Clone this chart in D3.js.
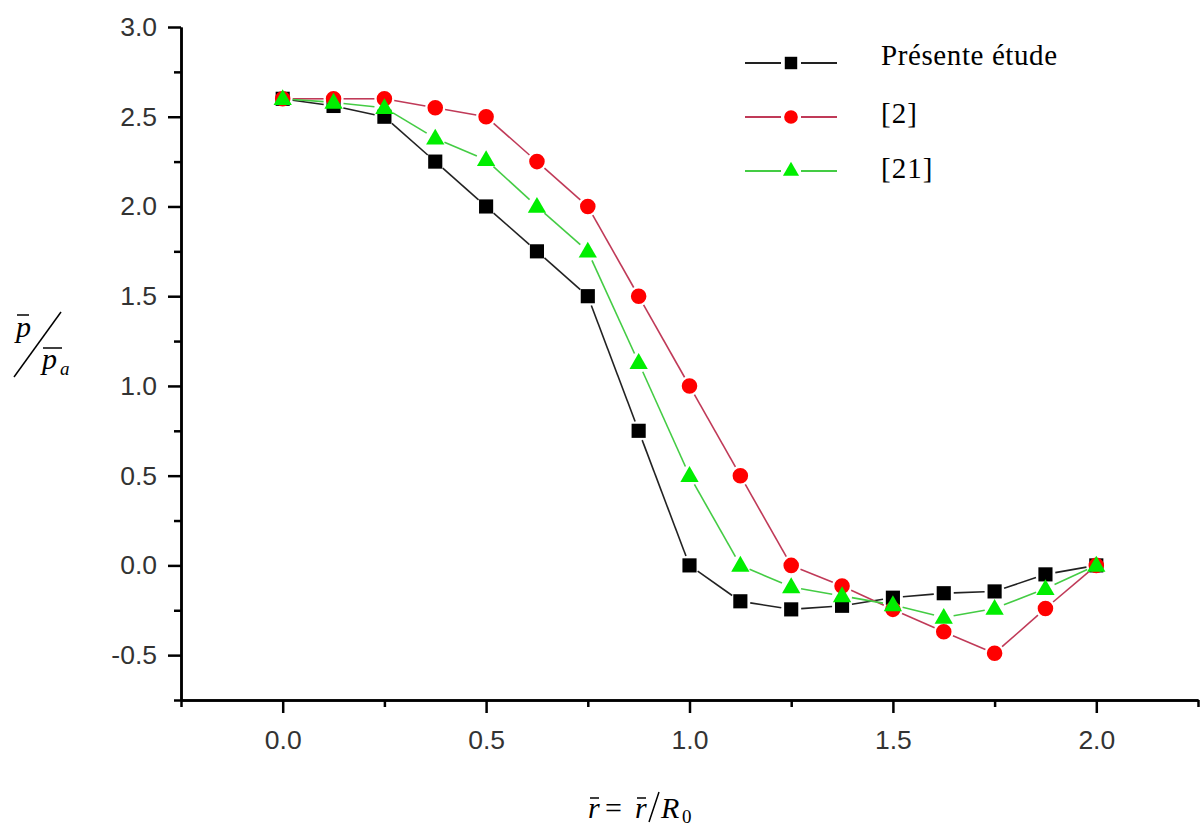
<!DOCTYPE html>
<html>
<head>
<meta charset="utf-8">
<script src="https://cdn.jsdelivr.net/npm/d3@7"></script>
<style>
  html, body { margin: 0; padding: 0; background: #fff; }
  svg { display: block; }
</style>
</head>
<body>
<svg id="chart" width="1200" height="827"></svg>
<script>
// ---- data ----
const rValues   = [0, 0.125, 0.25, 0.375, 0.5, 0.625, 0.75, 0.875, 1.0, 1.125, 1.25, 1.375, 1.5, 1.625, 1.75, 1.875, 2.0];
const presente  = [2.60, 2.56, 2.50, 2.25, 2.00, 1.75, 1.50, 0.75, 0.00, -0.20, -0.245, -0.225, -0.18, -0.155, -0.145, -0.05, 0.00];
const ref2      = [2.60, 2.60, 2.60, 2.55, 2.50, 2.25, 2.00, 1.50, 1.00, 0.50, 0.00, -0.115, -0.245, -0.37, -0.49, -0.24, 0.00];
const ref21     = [2.60, 2.58, 2.55, 2.38, 2.26, 2.00, 1.75, 1.13, 0.50, 0.00, -0.12, -0.17, -0.22, -0.29, -0.24, -0.13, 0.00];
const xMajorTicks = [0, 0.5, 1.0, 1.5, 2.0];
const xMinorTicks = [-0.25, 0.25, 0.75, 1.25, 1.75, 2.25];
const yMajorTicks = [-0.5, 0.0, 0.5, 1.0, 1.5, 2.0, 2.5, 3.0];
const yMinorTicks = [-0.75, -0.25, 0.25, 0.75, 1.25, 1.75, 2.25, 2.75];
const seriesNames = ["Présente étude", "[2]", "[21]"];

// ---- layout ----
const svg = d3.select("#chart");
const x = d3.scaleLinear().domain([-0.25, 2.25]).range([181, 1198]);
const y = d3.scaleLinear().domain([-0.75, 3.0]).range([700, 27]);

const tickFont = "'Liberation Sans', Arial, sans-serif";
const fmt = d => d3.format(".1f")(d).replace("\u2212", "-");

// ---- axes ----
function styleAxis(g) {
  g.select(".domain").attr("stroke", "#000").attr("stroke-width", 2.5);
  g.selectAll(".tick line").attr("stroke", "#000").attr("stroke-width", 2.5);
  g.selectAll(".tick text").attr("fill", "#333").style("font-family", tickFont).style("font-size", "26.5px");
}

svg.append("g").attr("transform", "translate(0,700)")
  .call(d3.axisBottom(x).tickValues(xMinorTicks).tickSize(7).tickSizeOuter(0).tickFormat(""))
  .call(styleAxis);
svg.append("g").attr("transform", "translate(0,700)")
  .call(d3.axisBottom(x).tickValues(xMajorTicks).tickSize(13).tickSizeOuter(0).tickPadding(17).tickFormat(fmt))
  .call(styleAxis);

svg.append("g").attr("transform", "translate(181,0)")
  .call(d3.axisLeft(y).tickValues(yMinorTicks).tickSize(7).tickSizeOuter(0).tickFormat(""))
  .call(styleAxis);
svg.append("g").attr("transform", "translate(181,0)")
  .call(d3.axisLeft(y).tickValues(yMajorTicks).tickSize(13).tickSizeOuter(0).tickPadding(11).tickFormat(fmt))
  .call(styleAxis);

// ---- series ----
const series = [
  { name: seriesNames[0], values: presente, line: "#222222", fill: "#000000", shape: "square" },
  { name: seriesNames[1], values: ref2,     line: "#c03a58", fill: "#ff0000", shape: "circle" },
  { name: seriesNames[2], values: ref21,    line: "#44cc44", fill: "#00ee00", shape: "triangle" }
];

function markerPath(shape) {
  if (shape === "square") return d3.symbol().type(d3.symbolSquare).size(200)();
  if (shape === "circle") return d3.symbol().type(d3.symbolCircle).size(190)();
  return d3.symbol().type(d3.symbolTriangle).size(145)();
}

const gap = 10;
series.forEach(s => {
  const pts = rValues.map((r, i) => [x(r), y(s.values[i])]);
  const g = svg.append("g");
  for (let i = 0; i < pts.length - 1; i++) {
    const [x1, y1] = pts[i], [x2, y2] = pts[i + 1];
    const dx = x2 - x1, dy = y2 - y1, len = Math.hypot(dx, dy);
    if (len <= 2 * gap) continue;
    const ux = dx / len, uy = dy / len;
    g.append("line")
      .attr("x1", x1 + ux * gap).attr("y1", y1 + uy * gap)
      .attr("x2", x2 - ux * gap).attr("y2", y2 - uy * gap)
      .attr("stroke", s.line).attr("stroke-width", 1.6);
  }
});
series.forEach(s => {
  svg.append("g").selectAll("path")
    .data(rValues.map((r, i) => [r, s.values[i]]))
    .join("path")
    .attr("d", markerPath(s.shape))
    .attr("transform", d => `translate(${x(d[0])},${y(d[1]) + (s.shape === "triangle" ? 1 : 0)})`)
    .attr("fill", s.fill);
});

// ---- legend ----
const legendRows = [63, 117, 171];
const legendBaselines = [65, 123, 178];
series.forEach((s, i) => {
  const g = svg.append("g");
  g.append("line").attr("x1", 745).attr("x2", 781).attr("y1", legendRows[i]).attr("y2", legendRows[i])
    .attr("stroke", s.line).attr("stroke-width", 1.8);
  g.append("line").attr("x1", 801).attr("x2", 837).attr("y1", legendRows[i]).attr("y2", legendRows[i])
    .attr("stroke", s.line).attr("stroke-width", 1.8);
  g.append("path").attr("d", markerPath(s.shape))
    .attr("transform", `translate(791,${legendRows[i]}) scale(0.88)`)
    .attr("fill", s.fill);
  g.append("text").attr("x", 881).attr("y", legendBaselines[i])
    .style("font-family", "'Liberation Serif', 'Times New Roman', serif")
    .style("font-size", "29px").style("letter-spacing", i === 0 ? "0.6px" : "1px").attr("fill", "#000")
    .text(s.name);
});

// ---- y-axis label: p̄ / p̄_a ----
const serif = "'Liberation Serif', 'Times New Roman', serif";
const yl = svg.append("g");
yl.append("text").attr("x", 16).attr("y", 337).style("font-family", serif).style("font-style", "italic")
  .style("font-size", "30px").text("p");
yl.append("line").attr("x1", 17).attr("x2", 29).attr("y1", 315).attr("y2", 315).attr("stroke", "#000").attr("stroke-width", 1.5);
yl.append("line").attr("x1", 14).attr("y1", 377).attr("x2", 61).attr("y2", 312).attr("stroke", "#000").attr("stroke-width", 1.5);
yl.append("text").attr("x", 42).attr("y", 369).style("font-family", serif).style("font-style", "italic")
  .style("font-size", "30px").text("p");
yl.append("line").attr("x1", 43).attr("x2", 62).attr("y1", 348).attr("y2", 348).attr("stroke", "#000").attr("stroke-width", 1.5);
yl.append("text").attr("x", 60).attr("y", 375).style("font-family", serif).style("font-style", "italic")
  .style("font-size", "19px").text("a");

// ---- x-axis label: r̄ = r̄ / R0 ----
const xl = svg.append("g").style("font-family", serif).style("font-size", "30px");
xl.append("text").attr("x", 588).attr("y", 818).style("font-style", "italic").text("r");
xl.append("line").attr("x1", 590).attr("x2", 599).attr("y1", 798).attr("y2", 798).attr("stroke", "#000").attr("stroke-width", 1.5);
xl.append("text").attr("x", 605).attr("y", 818).text("=");
xl.append("text").attr("x", 635).attr("y", 818).style("font-style", "italic").text("r");
xl.append("line").attr("x1", 637).attr("x2", 646).attr("y1", 798).attr("y2", 798).attr("stroke", "#000").attr("stroke-width", 1.5);
xl.append("line").attr("x1", 649).attr("y1", 822).attr("x2", 659).attr("y2", 792).attr("stroke", "#000").attr("stroke-width", 1.5);
xl.append("text").attr("x", 661).attr("y", 818).style("font-style", "italic").text("R");
xl.append("text").attr("x", 682).attr("y", 823).style("font-size", "19px").text("0");
</script>
</body>
</html>
